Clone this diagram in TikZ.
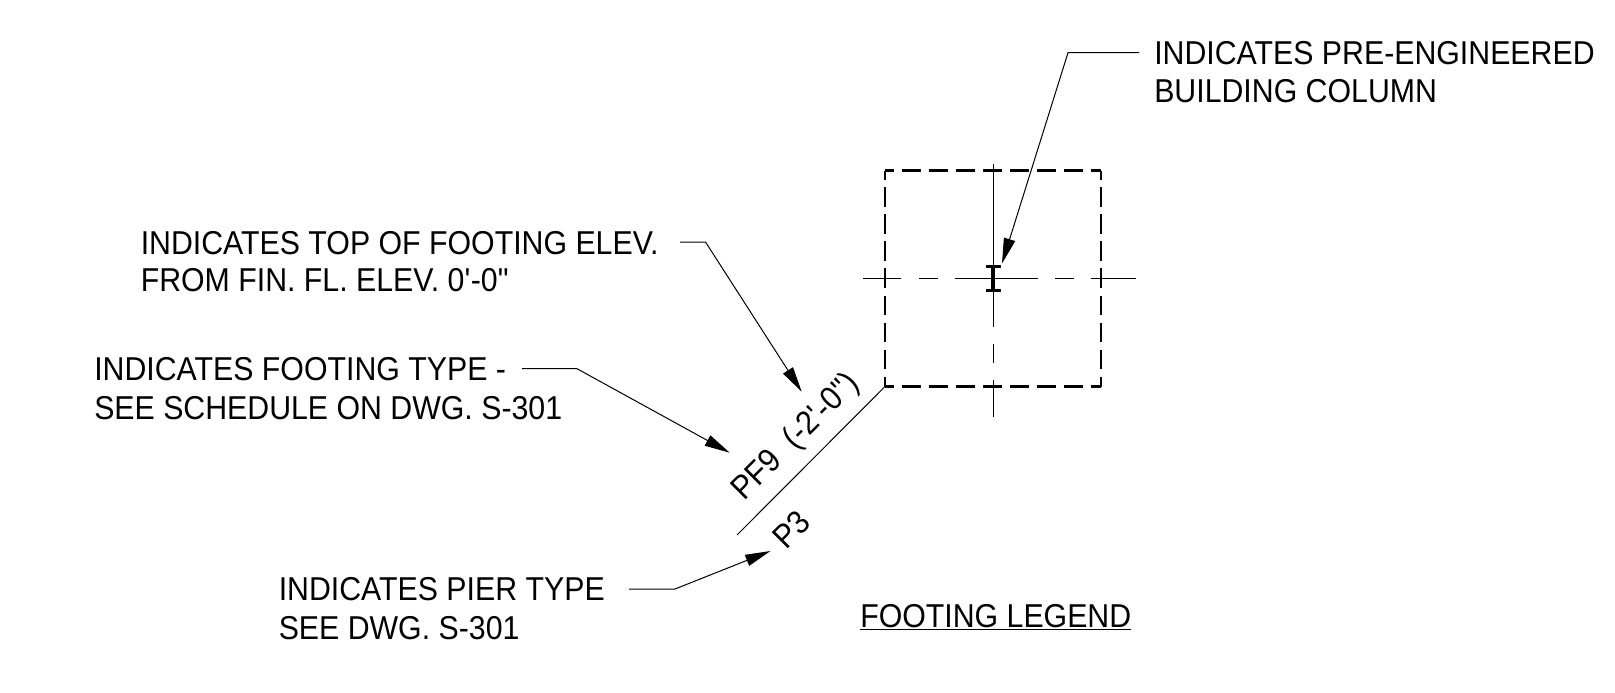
\documentclass[tikz,border=0pt]{standalone}
\usepackage{fontspec}
\setmainfont[FakeStretch=0.916]{Liberation Sans}
\usetikzlibrary{arrows.meta}
\tikzset{
  thinline/.style={line width=0.75pt,black},
  leader/.style={thinline,-{Triangle[length=19pt,width=8.7pt]}},
  dashline/.style={line width=1.9pt,black,dash pattern=on 14.5pt off 5.8pt,dash phase=7.75pt},
  flange/.style={line width=2.6pt,black},
  label/.style={inner sep=0pt,align=left,anchor=base west,font=\fontsize{24.8}{28.8}\selectfont},
  rotlabel/.style={inner sep=0pt,anchor=base west,rotate=45,font=\fontsize{24.8}{28.8}\selectfont}
}
\begin{document}
\begin{tikzpicture}[x=0.75pt,y=-0.75pt]
\useasboundingbox (0,0) rectangle (1615,692);
% square
\coordinate (c1) at (885,170.5);
\coordinate (c2) at (1101,170.5);
\coordinate (c3) at (1101,386.5);
\coordinate (c4) at (885,386.5);
\draw[dashline] (c1) -- (c2);
\draw[dashline] (c2) -- (c3);
\draw[dashline] (c4) -- (c3);
\draw[dashline] (c1) -- (c4);
% centre lines
\draw[thinline] (863,278) -- (901,278) (919,278) -- (938,278) (955,278) -- (1038,278) (1055,278) -- (1074,278) (1091,278) -- (1136,278);
\draw[thinline] (993,164) -- (993,327) (993,344) -- (993,363) (993,380) -- (993,417);
% column
\coordinate (ft) at (993,266.7);
\coordinate (fb) at (993,290.5);
\draw[flange] (986,266.7) -- (1001,266.7) (986,290.5) -- (1001,290.5) (ft) -- (fb);
% diagonal
\coordinate (dend) at (737,535);
\draw[thinline] (c4) -- (dend);
% labels
\node[label] (col) at (1154,103) {INDICATES PRE-ENGINEERED\\BUILDING COLUMN};
\node[label,font=\fontsize{24.8}{27.6}\selectfont] (top) at (140.5,291) {INDICATES TOP OF FOOTING ELEV.\\FROM FIN. FL. ELEV. 0\textquotesingle-0\textquotedbl};
\node[label] (typ) at (94,419) {INDICATES FOOTING TYPE -\\SEE SCHEDULE ON DWG. S-301};
\node[label] (pier) at (278.5,639) {INDICATES PIER TYPE\\SEE DWG. S-301};
\node[label] (leg) at (860,627) {\underline{FOOTING LEGEND}};
\node[rotlabel] (pf) at (744,502) {PF9\ \ (-2\textquotesingle-0\textquotedbl)};
\node[rotlabel] (p3) at (786.5,550.5) {P3};
% leaders
\coordinate (a1s) at (1139,52.7);
\coordinate (a1k) at (1068,52.7);
\coordinate (a1t) at (1002,263.5);
\draw[leader] (a1s) -- (a1k) -- (a1t);
\coordinate (a2s) at (680,242);
\coordinate (a2k) at (705.5,242);
\coordinate (a2t) at (801.7,391.7);
\draw[leader] (a2s) -- (a2k) -- (a2t);
\coordinate (a3s) at (522,368.7);
\coordinate (a3k) at (577,368.7);
\coordinate (a3t) at (729.7,452.7);
\draw[leader] (a3s) -- (a3k) -- (a3t);
\coordinate (a4s) at (629,589);
\coordinate (a4k) at (675,589);
\coordinate (a4t) at (770.5,551);
\draw[leader] (a4s) -- (a4k) -- (a4t);
\end{tikzpicture}
\end{document}
